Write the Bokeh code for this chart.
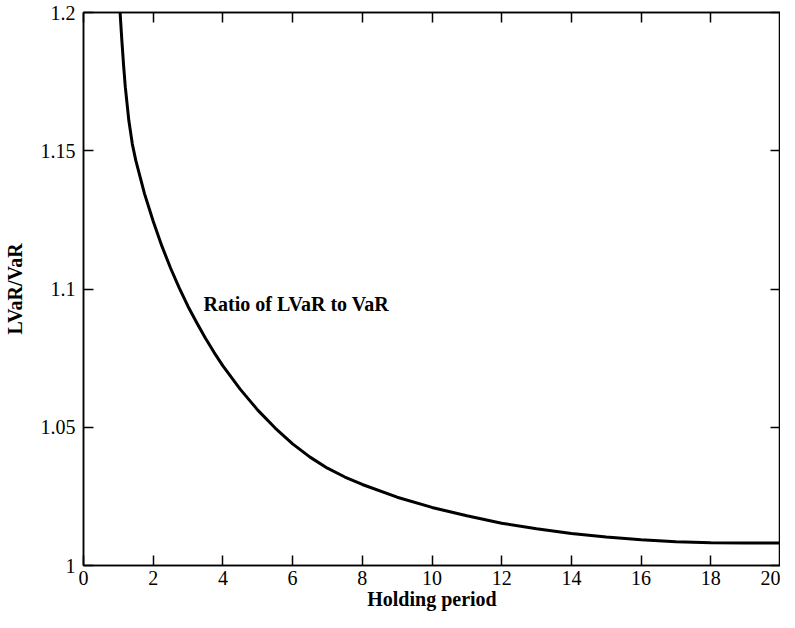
from bokeh.plotting import figure
from bokeh.models import LinearAxis, FixedTicker, Range1d, Label
from bokeh.embed import file_html
from bokeh.resources import INLINE

# Data
holding_period = [1.05, 1.1, 1.15, 1.2, 1.3, 1.4, 1.5, 1.75, 2.0, 2.25, 2.5, 2.75, 3.0,
                  3.25, 3.5, 3.75, 4.0, 4.5, 5.0, 5.5, 6.0, 6.5, 7.0, 7.5, 8.0, 9.0,
                  10.0, 11.0, 12.0, 13.0, 14.0, 15.0, 16.0, 17.0, 18.0, 19.0, 20.0]
ratio = [1.200, 1.190, 1.181, 1.173, 1.161, 1.1525, 1.1465, 1.1345, 1.1245, 1.1155, 1.1075,
         1.1003, 1.0937, 1.0878, 1.0822, 1.077, 1.0722, 1.0637, 1.0562, 1.0497, 1.044,
         1.0392, 1.0352, 1.032, 1.0293, 1.0247, 1.021, 1.018, 1.0153, 1.0133, 1.0116,
         1.0103, 1.0093, 1.0086, 1.0082, 1.0081, 1.0081]

x_ticks = [0, 2, 4, 6, 8, 10, 12, 14, 16, 18, 20]
y_ticks = [1.0, 1.05, 1.1, 1.15, 1.2]
y_tick_labels = ["1", "1.05", "1.1", "1.15", "1.2"]

FONT = "Liberation Serif"

p = figure(frame_width=697, height=612, output_backend="svg", toolbar_location=None,
           x_range=Range1d(0, 20), y_range=Range1d(1.0, 1.2),
           min_border_left=77, min_border_right=0, min_border_top=12, min_border_bottom=0)

p.line(holding_period, ratio, line_color="black", line_width=3, line_join="round")

p.xgrid.visible = False
p.ygrid.visible = False
p.outline_line_color = "black"
p.outline_line_width = 1.5
p.background_fill_color = "white"
p.border_fill_color = "white"

bottom = p.below[0]
left = p.left[0]
top = LinearAxis()
right = LinearAxis()
p.add_layout(top, "above")
p.add_layout(right, "right")

for ax in [bottom, top]:
    ax.ticker = FixedTicker(ticks=x_ticks)
for ax in [left, right]:
    ax.ticker = FixedTicker(ticks=y_ticks)
    ax.major_label_overrides = {t: l for t, l in zip(y_ticks, y_tick_labels)}

for ax in [bottom, left, top, right]:
    ax.major_tick_in = 10
    ax.major_tick_out = 0
    ax.minor_tick_line_color = None
    ax.major_tick_line_width = 1.5
    ax.major_tick_line_color = "black"
    ax.axis_line_color = "black"
    ax.axis_line_width = 1.5
    ax.major_label_text_font = FONT
    ax.major_label_text_font_size = "20px"
    ax.major_label_text_color = "black"
    ax.major_label_standoff = 8

bottom.major_label_standoff = 5

for ax in [top, right]:
    ax.major_label_text_font_size = "0px"
    ax.major_label_text_color = None
    ax.major_label_standoff = 0

bottom.axis_label = "Holding period"
left.axis_label = "LVaR/VaR"
for ax in [bottom, left]:
    ax.axis_label_text_font = FONT
    ax.axis_label_text_font_style = "bold"
    ax.axis_label_text_font_size = "20px"
    ax.axis_label_text_color = "black"
bottom.axis_label_standoff = 0
left.axis_label_standoff = 12

p.add_layout(Label(x=3.445, y=1.0946, text="Ratio of LVaR to VaR", text_font=FONT,
                   text_font_style="bold", text_font_size="20px", text_color="black",
                   text_baseline="alphabetic", text_align="left"))

open("out.html", "w").write(file_html(p, INLINE))
